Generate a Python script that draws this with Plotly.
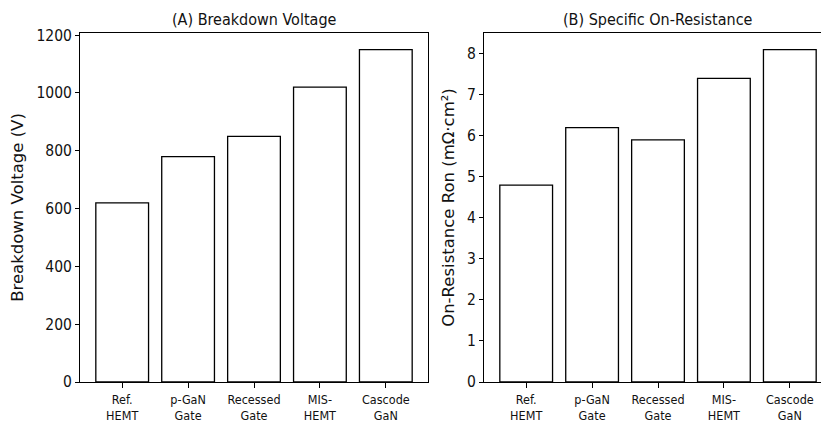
import plotly.graph_objects as go

categories = ["Ref.<br>HEMT", "p-GaN<br>Gate", "Recessed<br>Gate", "MIS-<br>HEMT", "Cascode<br>GaN"]
breakdown_v = [620, 780, 850, 1020, 1150]
ron = [4.8, 6.2, 5.9, 7.4, 8.1]
bv_ticks = [0, 200, 400, 600, 800, 1000, 1200]
ron_ticks = [0, 1, 2, 3, 4, 5, 6, 7, 8]

W, H = 821, 424
L, R, T, B = 80, 0, 33, 42
pw = W - L - R
ph = H - T - B
ax1 = (80, 428)
ax2 = (484, 832)  # full box extends beyond the window
n = len(categories)
lo, hi = -0.64, n - 1 + 0.64
ppu = (ax1[1] - ax1[0]) / (hi - lo)
hi2 = lo + (W - ax2[0]) / ppu

COND = "DejaVu Sans Condensed, DejaVu Sans, sans-serif"
NORM = "DejaVu Sans, sans-serif"

fig = go.Figure()
bar_style = dict(marker=dict(color="white", line=dict(color="black", width=1.3)), width=0.8, showlegend=False, hoverinfo="skip")
fig.add_trace(go.Bar(x=list(range(n)), y=breakdown_v, xaxis="x", yaxis="y", **bar_style))
fig.add_trace(go.Bar(x=list(range(n)), y=ron, xaxis="x2", yaxis="y2", **bar_style))

xcommon = dict(tickmode="array", tickvals=list(range(n)), ticktext=categories,
               showline=True, linecolor="black", linewidth=1, ticks="outside", ticklen=5,
               tickcolor="black", tickfont=dict(family=COND, size=12.5, color="#111"),
               ticklabelstandoff=1,
               showgrid=False, zeroline=False)
ycommon = dict(showline=True, linecolor="black", linewidth=1, ticks="outside", ticklen=4,
               tickcolor="black", tickfont=dict(family=COND, size=15.5, color="#111"),
               showgrid=False, zeroline=False, tickmode="array")

title_y = 1 + (T - 19) / ph

fig.update_layout(
    width=W, height=H, margin=dict(l=L, r=R, t=T, b=B, autoexpand=False),
    paper_bgcolor="white", plot_bgcolor="white",
    xaxis=dict(domain=[0, (ax1[1] - L) / pw], range=[lo, hi], mirror=True, anchor="y", **xcommon),
    yaxis=dict(range=[0, max(breakdown_v) * 1.05], tickvals=bv_ticks, mirror=True, anchor="x",
               title=dict(text="Breakdown Voltage (V)", font=dict(family=NORM, size=16.5, color="#111"), standoff=8),
               **ycommon),
    xaxis2=dict(domain=[(ax2[0] - L) / pw, 1], range=[lo, hi2], mirror=True, anchor="y2", **xcommon),
    yaxis2=dict(range=[0, max(ron) * 1.05], tickvals=ron_ticks, anchor="x2",
                title=dict(text="On-Resistance Ron (mΩ·cm²)", font=dict(family=NORM, size=16.5, color="#111"), standoff=8),
                **ycommon),
    annotations=[
        dict(text="(A) Breakdown Voltage", x=((ax1[0] + ax1[1]) / 2 - L) / pw, y=title_y,
             xref="paper", yref="paper", xanchor="center", yanchor="middle",
             showarrow=False, font=dict(family=COND, size=16, color="#111")),
        dict(text="(B) Specific On-Resistance", x=((ax2[0] + ax2[1]) / 2 - L) / pw, y=title_y,
             xref="paper", yref="paper", xanchor="center", yanchor="middle",
             showarrow=False, font=dict(family=COND, size=16, color="#111")),
    ],
)

fig.write_html("out.html", config={"displayModeBar": False},
               post_script="document.body.style.margin='0';document.body.style.overflow='hidden';")
